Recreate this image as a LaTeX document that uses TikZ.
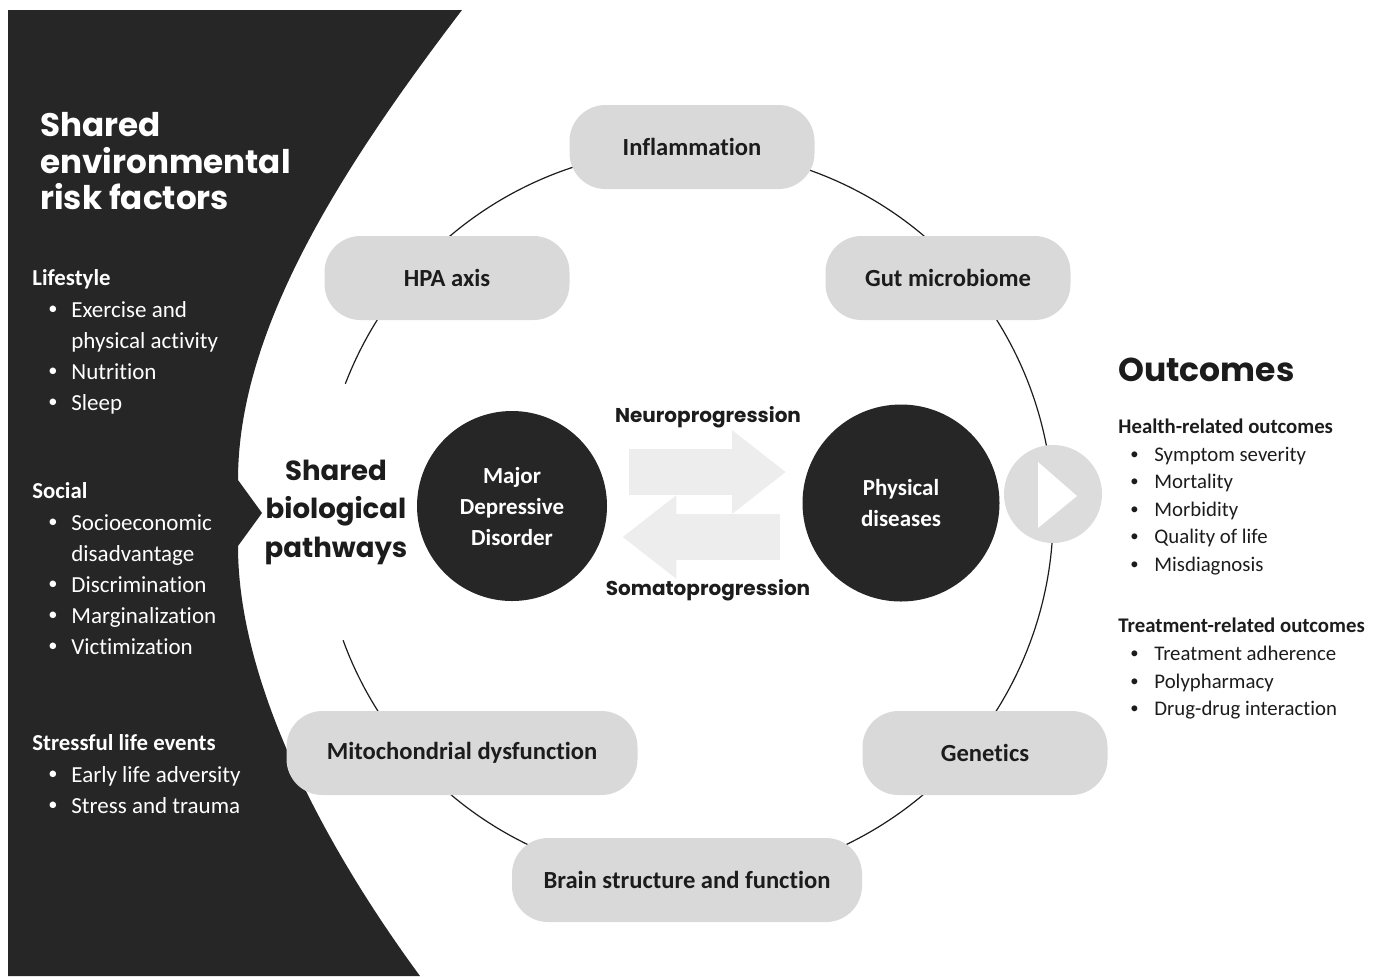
\documentclass[tikz,border=0pt]{standalone}
\usepackage{fontspec}
\setmainfont{Carlito}[Ligatures = NoCommon]
\newfontfamily\headfont{Poppins}
\usetikzlibrary{arrows.meta}
\definecolor{panel}{HTML}{262626}
\definecolor{pillgray}{HTML}{D9D9D9}
\definecolor{playgray}{HTML}{DCDCDC}
\definecolor{arrowgray}{HTML}{EDEDED}
\definecolor{ink}{HTML}{1C1C1C}
\tikzset{pill/.style = {fill = pillgray, rounded corners = 18pt, minimum height = 42pt, inner sep = 0pt, text = ink, font = \bfseries\fontsize{12.3}{14}\selectfont}}
\tikzset{bigdot/.style = {circle, fill = panel, inner sep = 0pt, align = center, text = white, font = \bfseries\fontsize{11.5}{15.5}\selectfont}}
\tikzset{ring/.style = {draw = ink, line width = 0.6pt}}
\tikzset{fat arrow/.style = {draw = arrowgray, line width = 23pt, -{Triangle[length = 27pt, width = 40pt]}}}
\tikzset{bigtitle/.style = {anchor = west, inner sep = 0pt, text height = 11.5pt, text depth = 0pt, font = \headfont\bfseries\fontsize{16.3}{18}\selectfont}}
\tikzset{lhead/.style = {anchor = west, inner sep = 0pt, text = white, text height = 7.4pt, text depth = 0pt, font = \bfseries\fontsize{11.4}{13}\selectfont}}
\tikzset{litem/.style = {lhead, font = \fontsize{11.5}{13}\selectfont}}
\tikzset{rhead/.style = {lhead, text = ink, text height = 6.7pt, font = \bfseries\fontsize{10.4}{12}\selectfont}}
\tikzset{ritem/.style = {rhead, font = \fontsize{10.4}{12}\selectfont}}
\newcommand{\dotmark}{\raisebox{0.25ex}{\scalebox{0.8}{\textbullet}}}
\newcommand{\lbul}{\makebox[12.5pt][l]{\hspace{1pt}\dotmark}}
\newcommand{\rbul}{\makebox[13pt][l]{\hspace{1pt}\dotmark}}

\begin{document}
\begin{tikzpicture}[x = 0.5pt, y = -0.5pt]

  \useasboundingbox (0 , 0) rectangle (1385 , 976);

  % dark panel
  \fill [panel] (8 , 10) -- (462 , 10) .. controls (340 , 170) and (238 , 330) .. (238 , 480)
    -- (262 , 513) -- (238 , 546) .. controls (238 , 680) and (320 , 840) .. (420 , 976) -- (8 , 976) -- cycle;

  \node [bigtitle, text = white] (t1) at (40 , 125) {Shared};
  \node [bigtitle, text = white] (t2) at (40 , 162) {environmental};
  \node [bigtitle, text = white] (t3) at (40 , 198) {risk factors};

  \node [lhead] (life) at (32 , 278) {Lifestyle};
  \node [litem] (l1) at (46 , 310) {\lbul Exercise and};
  \node [litem] (l1b) at (71 , 341) {physical activity};
  \node [litem] (l2) at (46 , 372) {\lbul Nutrition};
  \node [litem] (l3) at (46 , 403) {\lbul Sleep};

  \node [lhead] (soc) at (32 , 491) {Social};
  \node [litem] (s1) at (46 , 523) {\lbul Socioeconomic};
  \node [litem] (s1b) at (71 , 554) {disadvantage};
  \node [litem] (s2) at (46 , 585) {\lbul Discrimination};
  \node [litem] (s3) at (46 , 616) {\lbul Marginalization};
  \node [litem] (s4) at (46 , 647) {\lbul Victimization};

  \node [lhead] (stress) at (32 , 743) {Stressful life events};
  \node [litem] (e1) at (46 , 775) {\lbul Early life adversity};
  \node [litem] (e2) at (46 , 806) {\lbul Stress and trauma};

  % ring of pathways
  \draw [ring] (687 , 515) ++(-159 : 366) arc [start angle = -159, end angle = 160, radius = 366];

  \node [pill, minimum width = 122.5pt] (infl) at (692 , 147) {Inflammation};
  \node [pill, minimum width = 122.5pt] (hpa) at (447 , 278) {HPA axis};
  \node [pill, minimum width = 122.5pt] (gut) at (948 , 278) {Gut microbiome};
  \node [pill, minimum width = 175.5pt] (mito) at (462 , 753) {Mitochondrial dysfunction};
  \node [pill, minimum width = 122.5pt] (gen) at (985 , 753) {Genetics};
  \node [pill, minimum width = 175pt] (brain) at (687 , 880) {Brain structure and function};

  \node [align = center, inner sep = 0pt, text = ink, font = \headfont\bfseries\fontsize{13.8}{19.25}\selectfont] (sbp) at (336 , 512) {Shared\\biological\\pathways};

  % the two disorders
  \node [bigdot, minimum size = 95pt] (mdd) at (512 , 506) {Major\\Depressive\\Disorder};
  \node [bigdot, minimum size = 98.5pt] (phys) at (901 , 503) {Physical\\diseases};

  \draw [fat arrow] ([xshift = 11pt, yshift = 17pt] mdd.east) -- ([xshift = -8pt, yshift = 15.5pt] phys.west);
  \draw [fat arrow] ([xshift = -11pt, yshift = -17pt] phys.west) -- ([xshift = 7.5pt, yshift = -15.5pt] mdd.east);

  \node [text = ink, inner sep = 0pt, font = \headfont\bfseries\fontsize{10}{12}\selectfont] (neuro) at (708 , 417) {Neuroprogression};
  \node [text = ink, inner sep = 0pt, font = \headfont\bfseries\fontsize{10}{12}\selectfont] (soma) at (708 , 590) {Somatoprogression};

  % outcomes
  \node [circle, fill = playgray, minimum size = 49pt, inner sep = 0pt] (play) at (1053 , 494) {};
  \fill [white] (1038 , 462) -- (1077 , 496) -- (1038 , 528) -- cycle;

  \node [bigtitle, text = ink, font = \headfont\bfseries\fontsize{16.5}{18}\selectfont] (outc) at (1118 , 370) {Outcomes};

  \node [rhead] (health) at (1118 , 427) {Health-related outcomes};
  \node [ritem] (h1) at (1128 , 455) {\rbul Symptom severity};
  \node [ritem] (h2) at (1128 , 482) {\rbul Mortality};
  \node [ritem] (h3) at (1128 , 510) {\rbul Morbidity};
  \node [ritem] (h4) at (1128 , 537) {\rbul Quality of life};
  \node [ritem] (h5) at (1128 , 565) {\rbul Misdiagnosis};

  \node [rhead] (treat) at (1118 , 626) {Treatment-related outcomes};
  \node [ritem] (r1) at (1128 , 654) {\rbul Treatment adherence};
  \node [ritem] (r2) at (1128 , 682) {\rbul Polypharmacy};
  \node [ritem] (r3) at (1128 , 709) {\rbul Drug-drug interaction};

\end{tikzpicture}
\end{document}
